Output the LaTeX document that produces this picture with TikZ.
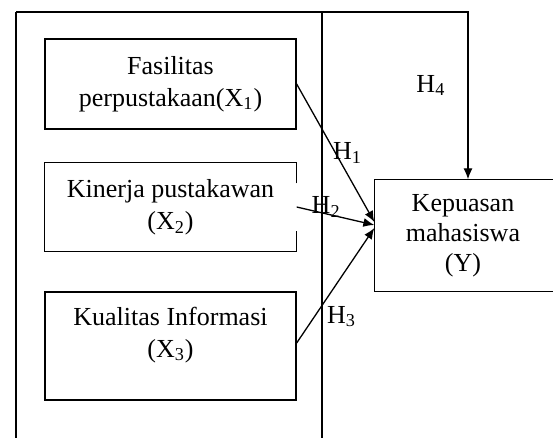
\documentclass[tikz,border=0pt]{standalone}
\usepackage{fontspec}
\setmainfont{Liberation Serif}
\usetikzlibrary{arrows.meta}

\tikzset{
  varbox/.style={align=center, minimum width=125.5pt, inner sep=2pt},
  hlabel/.style={inner sep=1pt},
}

\begin{document}
\begin{tikzpicture}[x=0.5pt,y=-0.5pt,line width=0.65pt,>={Latex[length=5.5pt,width=4.5pt]},font=\fontsize{13}{16}\selectfont]

\useasboundingbox (0,0) rectangle (553,438);

% frame
\coordinate (topleft)	at (16,12);
\coordinate (leftfoot)	at (16,440);
\coordinate (midtop)	at (322,12);
\coordinate (midfoot)	at (322,440);
\draw (leftfoot) -- (topleft);
\draw (midtop) -- (midfoot);

\node (fasilitas)	at (170.5,84)	[varbox,draw,minimum height=45pt] {Fasilitas\\perpustakaan(X\textsubscript{1})};
\node (kinerja)		at (170.5,207)	[varbox,minimum height=44pt] {Kinerja pustakawan\\(X\textsubscript{2})};
\node (kualitas)	at (170.5,346)	[varbox,draw,minimum height=54pt,text depth=14pt] {Kualitas Informasi\\(X\textsubscript{3})};
\node (kepuasan)	at (469,235.5)	[align=center,minimum width=94pt,minimum height=55.5pt,font=\fontsize{13}{15}\selectfont] {\hspace*{-6pt}Kepuasan\\\hspace*{-6pt}mahasiswa\\\hspace*{-6pt}(Y)};

% X2 box, open on the right
\draw ([yshift=-10.5pt]kinerja.north east) -- (kinerja.north east) -- (kinerja.north west) -- (kinerja.south west) -- (kinerja.south east) -- ([yshift=10.5pt]kinerja.south east);
% Y box, runs off the right edge
\draw (kepuasan.north east) -- (kepuasan.north west) -- (kepuasan.south west) -- (kepuasan.south east);

\draw [->] (topleft) -| node[hlabel,left,pos=0.72,xshift=-10pt]{H\textsubscript{4}} ([xshift=-0.5pt]kepuasan.north);
\draw [->] (fasilitas.east) to node[hlabel,right,pos=0.5,xshift=-2.5pt]{H\textsubscript{1}} ([yshift=6.75pt]kepuasan.west);
\draw [->] (kinerja.east) to node[hlabel,pos=0.38,yshift=3.5pt]{H\textsubscript{2}} ([yshift=5.25pt]kepuasan.west);
\draw [->] ([yshift=1.5pt]kualitas.east) to node[hlabel,right,pos=0.23,xshift=5pt]{H\textsubscript{3}} ([yshift=3.75pt]kepuasan.west);

\end{tikzpicture}
\end{document}
